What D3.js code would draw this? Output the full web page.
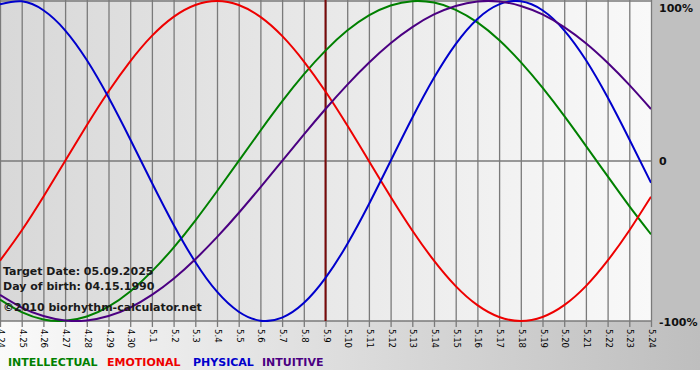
<!DOCTYPE html>
<html><head><meta charset="utf-8">
<script src="https://cdn.jsdelivr.net/npm/d3@7"></script>
<style>html,body{margin:0;padding:0;background:#fff;}svg{display:block;}</style>
</head><body>
<svg id="c" width="700" height="380"></svg>
<script>
const dates = ["4.24","4.25","4.26","4.27","4.28","4.29","4.30","5.1","5.2","5.3","5.4","5.5","5.6","5.7","5.8","5.9","5.10","5.11","5.12","5.13","5.14","5.15","5.16","5.17","5.18","5.19","5.20","5.21","5.22","5.23","5.24"];
const intellectual = [-0.866,-0.945,-0.990,-0.999,-0.972,-0.910,-0.815,-0.690,-0.541,-0.372,-0.189,0.000,0.189,0.372,0.541,0.690,0.815,0.910,0.972,0.999,0.990,0.945,0.866,0.756,0.618,0.458,0.282,0.095,-0.095,-0.282,-0.458];
const emotional = [-0.623,-0.434,-0.223,0.000,0.223,0.434,0.623,0.782,0.901,0.975,1.000,0.975,0.901,0.782,0.623,0.434,0.223,0.000,-0.223,-0.434,-0.623,-0.782,-0.901,-0.975,-1.000,-0.975,-0.901,-0.782,-0.623,-0.434,-0.223];
const physical = [0.979,0.998,0.942,0.817,0.631,0.398,0.136,-0.136,-0.398,-0.631,-0.817,-0.942,-0.998,-0.979,-0.888,-0.731,-0.520,-0.270,0.000,0.270,0.520,0.731,0.888,0.979,0.998,0.942,0.817,0.631,0.398,0.136,-0.136];
const intuitive = [-0.837,-0.916,-0.969,-0.997,-0.997,-0.969,-0.916,-0.837,-0.736,-0.614,-0.476,-0.325,-0.165,0.000,0.165,0.325,0.476,0.614,0.736,0.837,0.916,0.969,0.997,0.997,0.969,0.916,0.837,0.736,0.614,0.476,0.325];
const yTicks = [1, 0, -1];
const yTickLabels = ["100%", "0", "-100%"];
const targetDate = "5.9";
const infoLines = ["Target Date: 05.09.2025", "Day of birth: 04.15.1990", "\u00a92010 biorhythm-calculator.net"];
const seriesNames = ["INTELLECTUAL", "EMOTIONAL", "PHYSICAL", "INTUITIVE"];

const series = [
  {name: seriesNames[0], values: intellectual, color: "#008000"},
  {name: seriesNames[1], values: emotional, color: "#ee0000"},
  {name: seriesNames[2], values: physical, color: "#0000cc"},
  {name: seriesNames[3], values: intuitive, color: "#4b0082"}
];

const svg = d3.select("#c");
const W = 700, H = 380;
const plot = {x0: 0, x1: 651, y0: 1, y1: 321};

const defs = svg.append("defs");
const g1 = defs.append("linearGradient").attr("id","outerG").attr("x1","0").attr("x2","1").attr("y1","0").attr("y2","0");
g1.append("stop").attr("offset","0").attr("stop-color","#fafafa");
g1.append("stop").attr("offset","1").attr("stop-color","#bebebe");
const g2 = defs.append("linearGradient").attr("id","plotG").attr("x1","0").attr("x2","1").attr("y1","0").attr("y2","0");
g2.append("stop").attr("offset","0").attr("stop-color","#d8d8d8");
g2.append("stop").attr("offset","1").attr("stop-color","#f9f9f9");
defs.append("clipPath").attr("id","clip").append("rect")
  .attr("x", plot.x0).attr("y", 0).attr("width", plot.x1 - plot.x0).attr("height", plot.y1 + 1);

svg.append("rect").attr("x",0).attr("y",0).attr("width",W).attr("height",370).attr("fill","url(#outerG)");
svg.append("rect").attr("x",plot.x1).attr("y",0).attr("width",W-plot.x1).attr("height",plot.y1).attr("fill","#c0c0c0");
svg.append("rect").attr("x",plot.x0).attr("y",0).attr("width",plot.x1-plot.x0).attr("height",plot.y1).attr("fill","url(#plotG)");

const x = d3.scalePoint().domain(dates).range([plot.x0, plot.x1]);
const y = d3.scaleLinear().domain([-1, 1]).range([plot.y1, plot.y0]);

// vertical grid + ticks
const xAxis = d3.axisBottom(x).tickSize(plot.y1 + 6).tickSizeOuter(0);
const gx = svg.append("g").call(xAxis);
gx.select(".domain").remove();
gx.selectAll(".tick line").attr("stroke","#7a7a7a").attr("stroke-width",1.3);
gx.selectAll(".tick text")
  .attr("font-family","'DejaVu Sans Condensed','DejaVu Sans',sans-serif")
  .attr("font-size","9.5px").attr("fill","#000")
  .each(function(){
    const t = d3.select(this);
    t.attr("y", null).attr("dy", null).attr("x", null);
    t.attr("transform", `translate(0,${plot.y1 + 8}) rotate(90)`)
     .attr("text-anchor","start").attr("dominant-baseline","middle");
  });

// horizontal lines
svg.append("g").selectAll("line").data(yTicks).join("line")
  .attr("x1", plot.x0).attr("x2", plot.x1)
  .attr("y1", d => y(d)).attr("y2", d => y(d))
  .attr("stroke","#7a7a7a").attr("stroke-width",1.3);

// right labels
svg.append("g").selectAll("text").data(yTicks).join("text")
  .attr("x", 659).attr("y", (d,i) => [12, 165, 326][i])
  .attr("font-family","'DejaVu Sans',sans-serif").attr("font-weight","bold").attr("font-size","11px")
  .attr("fill","#111")
  .text((d,i) => yTickLabels[i]);

// target line
svg.append("line").attr("x1", x(targetDate)).attr("x2", x(targetDate))
  .attr("y1", 0).attr("y2", plot.y1).attr("stroke","#7a0a0a").attr("stroke-width",2);

// curves
const line = d3.line().x((d,i) => x(dates[i])).y(d => y(d)).curve(d3.curveNatural);
svg.append("g").attr("clip-path","url(#clip)").selectAll("path").data(series).join("path")
  .attr("d", d => line(d.values)).attr("fill","none")
  .attr("stroke", d => d.color).attr("stroke-width", 2);

// info text
svg.append("g").selectAll("text").data(infoLines).join("text")
  .attr("x", 3).attr("y", (d,i) => [275, 290, 311][i])
  .attr("font-family","'DejaVu Sans',sans-serif").attr("font-weight","bold").attr("font-size","11px")
  .attr("fill","#1a1a1a").text(d => d);

// legend
const legX = [8, 107, 193, 262];
svg.append("g").selectAll("text").data(series).join("text")
  .attr("x", (d,i) => legX[i]).attr("y", 366)
  .attr("font-family","'DejaVu Sans',sans-serif").attr("font-weight","bold").attr("font-size","11px")
  .attr("fill", d => d.color).text(d => d.name);
</script>
</body></html>
